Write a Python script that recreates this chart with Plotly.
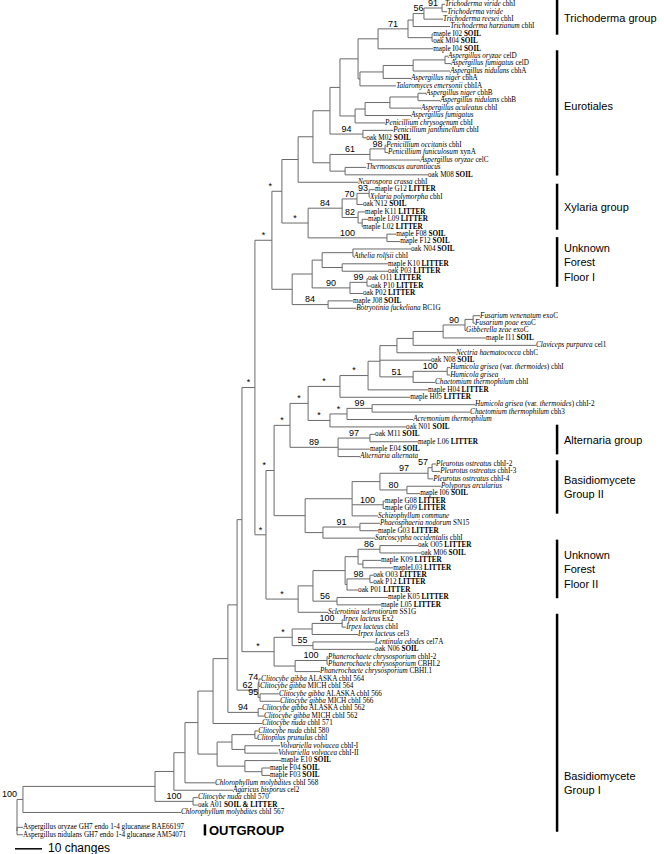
import plotly.graph_objects as go

# leaf labels, top to bottom (numbers in the newick pieces are 1-based positions in this list)
LEAVES = [
    "Trichoderma viride cbhI", "Trichoderma viride", "Trichoderma reesei cbhI", "Trichoderma harzianum cbhI",
    "maple I02 SOIL", "oak M04 SOIL", "maple I04 SOIL",
    "Aspergillus oryzae celD", "Aspergillus fumigatus celD", "Aspergillus nidulans cbhA", "Aspergillus niger cbhA",
    "Talaromyces emersonii cbhIA", "Aspergillus niger cbhB", "Aspergillus nidulans cbhB", "Aspergillus aculeatus cbhI",
    "Aspergillus fumigatus", "Penicillium chrysogenum cbhI", "Penicillium janthinellum cbhI", "oak M02 SOIL",
    "Penicillium occitanis cbhI", "Penicillium funiculosum xynA", "Aspergillus oryzae celC", "Thermoascus aurantiacus",
    "oak M08 SOIL", "Neurospora crassa cbhI",
    "maple G12 LITTER", "Xylaria polymorpha cbhI", "oak N12 SOIL", "maple K11 LITTER", "maple L09 LITTER",
    "maple L02 LITTER", "maple F08 SOIL", "maple F12 SOIL",
    "oak N04 SOIL", "Athelia rolfsii cbhI", "maple K10 LITTER", "oak P03 LITTER", "oak O11 LITTER", "oak P10 LITTER",
    "oak P02 LITTER", "maple J08 SOIL", "Botryotinia fuckeliana BC1G",
    "Fusarium venenatum exoC", "Fusarium poae exoC", "Gibberella zeae exoC", "maple I11 SOIL",
    "Claviceps purpurea cel1", "Nectria haematococca cbhC", "oak N08 SOIL",
    "Humicola grisea (var. thermoides) cbhI", "Humicola grisea", "Chaetomium thermophilum cbhI",
    "maple H04 LITTER", "maple H05 LITTER", "Humicola grisea (var. thermoides) cbhI-2",
    "Chaetomium thermophilum cbh3", "Acremonium thermophilum", "oak N01 SOIL",
    "oak M11 SOIL", "maple L06 LITTER", "maple E04 SOIL", "Alternaria alternata",
    "Pleurotus ostreatus cbhI-2", "Pleurotus ostreatus cbhI-3", "Pleurotus ostreatus cbhI-4", "Polyporus arcularius",
    "maple I06 SOIL", "maple G08 LITTER", "maple G09 LITTER", "Schizophyllum commune",
    "Phaeosphaeria nodorum SN15", "maple G03 LITTER", "Sarcoscypha occidentalis cbhI",
    "oak O05 LITTER", "oak M06 SOIL", "maple K09 LITTER", "mapleL03 LITTER", "oak O03 LITTER", "oak P12 LITTER",
    "oak P01 LITTER", "maple K05 LITTER", "maple L05 LITTER", "Sclerotinia sclerotiorum SS1G",
    "Irpex lacteus Ex2", "Irpex lacteus cbhI", "Irpex lacteus cel3", "Lentinula edodes cel7A", "oak N06 SOIL",
    "Phanerochaete chrysosporium cbhI-2", "Phanerochaete chrysosporium CBHI.2", "Phanerochaete chrysosporium CBHI.1",
    "Clitocybe gibba ALASKA cbhI 564", "Clitocybe gibba MICH cbhI 564", "Clitocybe gibba ALASKA cbhI 566",
    "Clitocybe gibba MICH cbhI 566", "Clitocybe gibba ALASKA cbhI 562", "Clitocybe gibba MICH cbhI 562",
    "Clitocybe nuda cbhI 571", "Clitocybe nuda cbhI 580", "Clitopilus prunulus cbhI",
    "Volvariella volvacea cbhI-I", "Volvariella volvacea cbhI-II", "maple E10 SOIL", "maple F04 SOIL",
    "maple F03 SOIL", "Chlorophyllum molybdites cbhI 568", "Agaricus bisporus cel2", "Clitocybe nuda cbhI 570",
    "oak A01 SOIL & LITTER", "Chlorophyllum molybdites cbhI 567",
    "Aspergillus oryzae GH7 endo 1-4 glucanase BAE66197",
    "Aspergillus nidulans GH7 endo 1-4 glucanase AM54071",
]
N_INGROUP = 110

# newick pieces; number after ':' = distance from the root in changes, text before ':' = support
TRICHO = ("(((((1:158.5,2:159.3)91:157.4,3:157.8)56:150.7,4:160.4):146.7,(5:154.1,6:154.1):153.7)71:144.8,"
          "7:154.1):133.7")
EURO_A = "((((8:159.6,9:160.7):158.5,10:160.4):146.7,11:145.9):135.6,12:140.4):127.0"
EURO_B = "((((13:151.5,14:156.7):148.5,15:149.6):138.1,16:145.9):128.9,17:136.3):125.2"
EURO_C = "(((20:136.7,21:137.4)98:136.3,22:149.3)61:130.7,(23:129.3,24:152.2):121.5):115.9"
XYL = ("((((26:132.6,27:130.7)93:130.4,28:128.1)70:125.9,(29:128.9,(30:130.0,31:128.1):127.8)82:126.3)84:120.4,"
       "(32:140.4,33:141.9)100:137.0)*:107.8")
UFF1 = ("((((34:145.9,35:124.8):124.4,(36:137.4,37:137.4):120.4):113.0,"
        "((38:130.0,39:131.1)99:129.6,40:128.1)90:123.3):109.3,(41:124.4,42:125.6)84:115.2):101.9")
FUS = "(((((43:171.5,44:169.6):168.9,45:166.3)90:165.9,46:173.7):157.8,47:192.2):146.7,48:162.6):140.7"
HUM = "((50:160.4,51:160.4)100:159.3,52:154.8)51:146.7"
ALT = "((59:132.6,60:148.5)97:130.7,61:130.7,62:127.0)89:118.9"
BAS2 = ("(((((63:155.2,64:156.7)57:153.7,65:154.1)97:152.2,(66:157.0,67:149.3)80:144.4):134.4,"
        "(68:136.3,69:136.3)100:135.6,70:133.7):124.1,((71:134.4,72:133.7)91:127.0,73:132.6):113.3):106.7")
UFF2 = ("(((((74:148.5,75:149.6)86:134.4,(76:134.8,77:139.3):128.1):126.3,"
        "((78:131.9,79:131.9)98:130.7,80:126.3):122.2):121.5,(81:137.4,82:134.8)56:118.5):109.6,83:115.2)*:104.1")
IRPEX = ("((((84:120.7,85:121.9)100:120.4,86:126.3):109.3,(87:132.6,88:132.6)55:109.6)*:101.9,"
         "((89:115.2,90:115.2)100:114.8,91:112.2):103.0)*:95.2")
GIBBA = "((92:90.4,93:90.0)74:89.6,(94:97.0,95:97.4)95:90.0)62:89.3"
PAIR562 = "(96:90.7,97:91.5)94:89.3"
LOWER = "(((99:89.3,100:88.9):88.1,(101:97.4,102:96.7):84.4):79.6,(103:97.8,(104:93.7,105:93.7):90.7):84.4):74.1"

UPPER = (f"((((({TRICHO},{EURO_A}):126.3,{EURO_B}):119.6,(18:139.3,19:129.3)94:128.1):115.9,{EURO_C}):109.6,"
         "25:126.3):104.1")
SORD = (f"(((({FUS},49:153.3,{HUM}):134.4,53:152.2)*:130.0,54:145.6)*:119.6,"
        "(((55:169.6,56:167.8)99:131.5,57:146.7)*:122.2,58:144.1)*:115.9)*:107.8")
N272 = f"(({UPPER},{XYL})*:98.1,{UFF1})*:94.4"
N266 = f"((({SORD},{ALT})*:101.1,{BAS2})*:95.2,{UFF2})*:92.2"
N242 = f"(({N272},{N266})*:88.1,{IRPEX}):83.3"
N198 = f"(((({N242},{GIBBA}):81.5,{PAIR562}):78.1,98:90.7):72.6,{LOWER}):67.0"
TREE = (f"((((({N198},106:73.3):62.2,107:80.0):58.1,(108:67.0,109:67.0)100:65.2):51.1,110:60.7)100:2.2,"
        "(111:2.2,112:2.2):0):0")

# clade bars on the right: label, first and last leaf slot covered by the bar, slot of the label
CLADES = [
    ("Trichoderma group", 0.4, 5.1, 2.8),
    ("Eurotiales", 7.2, 24.1, 14.7),
    ("Xylaria group", 25.2, 31.4, 28.3),
    ("Unknown<br>Forest<br>Floor I", 32.4, 39.1, 35.8),
    ("Alternaria group", 57.7, 61.7, 59.7),
    ("Basidiomycete<br>Group II", 62.5, 69.7, 66.1),
    ("Unknown<br>Forest<br>Floor II", 73.2, 81.1, 77.2),
    ("Basidiomycete<br>Group I", 83.2, 112.6, 106.0),
]

SCALE_CHANGES = 10


def parse(s):
    pos = 0

    def node():
        nonlocal pos
        kids = []
        if s[pos] == "(":
            pos += 1
            while True:
                kids.append(node())
                if s[pos] == ",":
                    pos += 1
                    continue
                pos += 1
                break
        start = pos
        while pos < len(s) and s[pos] not in ":,)":
            pos += 1
        label = s[start:pos]
        depth = 0.0
        if pos < len(s) and s[pos] == ":":
            pos += 1
            start = pos
            while pos < len(s) and s[pos] not in ",)":
                pos += 1
            depth = float(s[start:pos])
        return {"kids": kids, "label": label, "depth": depth}

    return node()


def slot(n):
    return n if n <= N_INGROUP else n + 1


def fmt(label):
    for tag in ("SOIL & LITTER", "SOIL", "LITTER"):
        if label.endswith(tag):
            return label[: -len(tag)] + "<b>" + tag.replace("&", "&amp;") + "</b>"
    if "GH7" in label:
        return label
    words = label.split(" ")
    rest = " ".join(words[2:]).replace("thermoides", "<i>thermoides</i>")
    return "<i>" + " ".join(words[:2]) + "</i>" + (" " + rest if rest else "")


root = parse(TREE)

lx, ly = [], []
leaf_x, leaf_y, leaf_t = [], [], []
sup_x, sup_y, sup_t = [], [], []
sup_lx, sup_ly, sup_lt = [], [], []


def walk(nd, parent):
    if nd["kids"]:
        ys = [walk(k, nd["depth"]) for k in nd["kids"]]
        y = (ys[0] + ys[-1]) / 2
        lx.extend([nd["depth"], nd["depth"], None])
        ly.extend([ys[0], ys[-1], None])
        if nd["label"] and parent is not None:
            if nd["depth"] - parent < 4:
                sup_lx.append(parent)
                sup_ly.append(y)
                sup_lt.append(nd["label"])
            else:
                sup_x.append((parent + nd["depth"]) / 2)
                sup_y.append(y)
                sup_t.append(nd["label"])
    else:
        n = int(nd["label"])
        y = slot(n)
        leaf_x.append(nd["depth"])
        leaf_y.append(y)
        leaf_t.append(fmt(LEAVES[n - 1]))
    if parent is not None:
        lx.extend([parent, nd["depth"], None])
        ly.extend([y, y, None])
    return y


walk(root, None)

fig = go.Figure()
fig.add_trace(go.Scatter(x=lx, y=ly, mode="lines", line=dict(color="#6a6a6a", width=1), hoverinfo="skip"))
fig.add_trace(go.Scatter(
    x=leaf_x, y=leaf_y, mode="text", text=leaf_t, textposition="middle right",
    textfont=dict(family="Liberation Serif", size=7.2, color="black"), hoverinfo="skip", cliponaxis=False))
fig.add_trace(go.Scatter(
    x=sup_x, y=sup_y, mode="text", text=sup_t, textposition="top center",
    textfont=dict(family="Liberation Sans", size=9, color="black"), hoverinfo="skip", cliponaxis=False))
fig.add_trace(go.Scatter(
    x=sup_lx, y=sup_ly, mode="text", text=sup_lt, textposition="top left",
    textfont=dict(family="Liberation Sans", size=9, color="black"), hoverinfo="skip", cliponaxis=False))

BAR_X = 200
for name, a, b, lab in CLADES:
    fig.add_shape(type="line", x0=BAR_X, x1=BAR_X, y0=a, y1=b, line=dict(color="black", width=2.5))
    fig.add_annotation(x=BAR_X + 2.0, y=lab, text=name, showarrow=False, xanchor="left", align="left",
                       font=dict(family="Liberation Sans", size=11, color="black"))

fig.add_shape(type="line", x0=69.6, x1=69.6, y0=111.6, y1=113.1, line=dict(color="black", width=2.5))
fig.add_annotation(x=70.4, y=112.4, text="<b>OUTGROUP</b>", showarrow=False, xanchor="left",
                   font=dict(family="Liberation Sans", size=13, color="black"))

fig.add_shape(type="line", x0=-0.74, x1=-0.74 + SCALE_CHANGES, y0=114.9, y1=114.9,
              line=dict(color="black", width=1.5))
fig.add_annotation(x=10.8, y=114.8, text=f"{SCALE_CHANGES} changes", showarrow=False, xanchor="left",
                   font=dict(family="Liberation Sans", size=12, color="black"))

fig.update_layout(
    width=664, height=854,
    margin=dict(l=0, r=0, t=0, b=0),
    paper_bgcolor="white", plot_bgcolor="white",
    showlegend=False,
    hovermode=False,
    xaxis=dict(range=[-6.3, 239.6], visible=False),
    yaxis=dict(range=[115.6, 0.42], visible=False),
)

# the page body has a default margin; drop it so the figure sits at the window corner
fig.write_html("out.html", config={"displayModeBar": False},
               post_script="document.body.style.margin='0';")
